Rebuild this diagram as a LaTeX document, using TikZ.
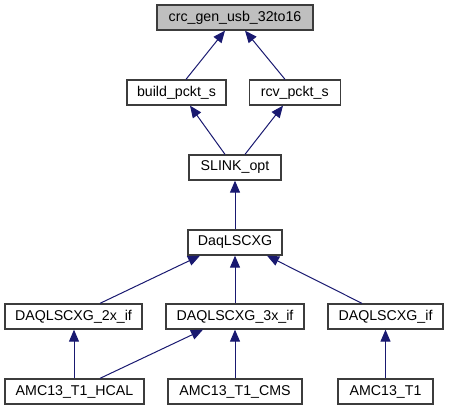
\documentclass[tikz,border=0pt]{standalone}
\usepackage{fontspec}
\setmainfont{Liberation Sans}
\usetikzlibrary{arrows.meta}
\definecolor{edgec}{RGB}{25,25,112}
\definecolor{boxc}{RGB}{60,60,60}
\begin{document}
\begin{tikzpicture}[x=1pt,y=-1pt,
  box/.style={draw=boxc,line width=1.3pt,rectangle,inner sep=0pt,minimum height=25pt,font=\fontsize{14.2}{16}\selectfont,fill=white},
  edge/.style={draw=edgec,line width=1pt,{Triangle[length=12pt,width=10pt]}-}]
\useasboundingbox (0,0) rectangle (449,411);
\node[box,fill=black!25,minimum width=156pt] (crc) at (235,17.5) {crc\_gen\_usb\_32to16};
\node[box,minimum width=99pt] (build) at (176.5,92.5) {build\_pckt\_s};
\node[box,minimum width=91pt] (rcv) at (294.7,92.5) {rcv\_pckt\_s};
\node[box,minimum width=92pt] (slink) at (235,167.5) {SLINK\_opt};
\node[box,minimum width=94pt] (daq) at (235,242.5) {DaqLSCXG};
\node[box,minimum width=137pt] (x2) at (73.5,316.5) {DAQLSCXG\_2x\_if};
\node[box,minimum width=138pt] (x3) at (235,316.5) {DAQLSCXG\_3x\_if};
\node[box,minimum width=115pt] (xif) at (385.5,316.5) {DAQLSCXG\_if};
\node[box,minimum width=139pt] (hcal) at (74.5,391.5) {AMC13\_T1\_HCAL};
\node[box,minimum width=134pt] (cms) at (235,391.5) {AMC13\_T1\_CMS};
\node[box,minimum width=95pt] (t1) at (385.5,391.5) {AMC13\_T1};
\draw[edge] ([xshift=-10pt]crc.south) -- ([xshift=9.5pt]build.north);
\draw[edge] ([xshift=10pt]crc.south) -- ([xshift=-9.7pt]rcv.north);
\draw[edge] ([xshift=13.5pt]build.south) -- ([xshift=-10pt]slink.north);
\draw[edge] ([xshift=-11.7pt]rcv.south) -- ([xshift=10pt]slink.north);
\draw[edge] (slink.south) -- (daq.north);
\draw[edge] ([xshift=-35pt]daq.south) -- ([xshift=26.5pt]x2.north);
\draw[edge] (daq.south) -- (x3.north);
\draw[edge] ([xshift=32pt]daq.south) -- ([xshift=-23.5pt]xif.north);
\draw[edge] ([xshift=0.5pt]x2.south) -- ([xshift=-0.5pt]hcal.north);
\draw[edge] ([xshift=-32pt]x3.south) -- ([xshift=25.5pt]hcal.north);
\draw[edge] (x3.south) -- (cms.north);
\draw[edge] (xif.south) -- (t1.north);
\end{tikzpicture}
\end{document}
